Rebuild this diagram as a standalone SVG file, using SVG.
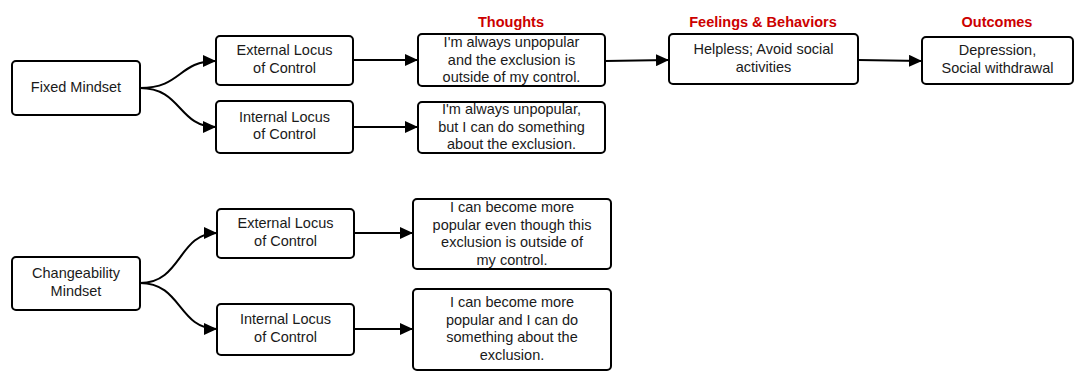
<svg xmlns="http://www.w3.org/2000/svg" width="1078" height="381" viewBox="0 0 1078 381">
  <style>
    .box { fill: #ffffff; stroke: #000000; stroke-width: 2; }
    .lbl { font-family: "Liberation Sans", Arial, sans-serif; font-size: 14.5px; fill: #1a1a1a; text-anchor: middle; }
    .head { font-family: "Liberation Sans", Arial, sans-serif; font-size: 14.5px; font-weight: bold; fill: #cc0000; text-anchor: middle; }
    .edge { fill: none; stroke: #000000; stroke-width: 2; marker-end: url(#arrow); }
  </style>
  <defs>
    <marker id="arrow" markerUnits="userSpaceOnUse" markerWidth="14" markerHeight="12" refX="13" refY="6" orient="auto">
      <path d="M0,0 L13,6 L0,12 Z" fill="#000000"/>
    </marker>
  </defs>

  <rect width="1078" height="381" fill="#ffffff"/>

  <!-- column headings -->
  <text class="head" x="511" y="27">Thoughts</text>
  <text class="head" x="763" y="27">Feelings &amp; Behaviors</text>
  <text class="head" x="997" y="27">Outcomes</text>

  <g id="connectors">
    <path class="edge" d="M140,88 C182,88 178,61 216,61"/>
    <path class="edge" d="M140,88 C182,88 178,127 216,127"/>
    <path class="edge" d="M353,60 L418,60"/>
    <path class="edge" d="M353,127 L418,127"/>
    <path class="edge" d="M605,61 L669,60"/>
    <path class="edge" d="M858,60 L922,61"/>
    <path class="edge" d="M140,283 C182,283 178,233 217,233"/>
    <path class="edge" d="M140,283 C182,283 178,329 217,329"/>
    <path class="edge" d="M354,233 L413,233"/>
    <path class="edge" d="M354,329 L413,329"/>
  </g>

  <g id="fixed-mindset">
    <rect class="box" x="12" y="61" width="128" height="54" rx="4"/>
    <text class="lbl" x="76" y="92">Fixed Mindset</text>
  </g>

  <g id="fixed-external">
    <rect class="box" x="216" y="36" width="137" height="49" rx="4"/>
    <text class="lbl" x="284.5" y="55">External Locus</text>
    <text class="lbl" x="284.5" y="73">of Control</text>
  </g>

  <g id="fixed-internal">
    <rect class="box" x="216" y="101" width="137" height="52" rx="4"/>
    <text class="lbl" x="284.5" y="122">Internal Locus</text>
    <text class="lbl" x="284.5" y="139">of Control</text>
  </g>

  <g id="thought-fixed-external">
    <rect class="box" x="418" y="34" width="187" height="52" rx="4"/>
    <text class="lbl" x="511.5" y="47">I'm always unpopular</text>
    <text class="lbl" x="511.5" y="64.5">and the exclusion is</text>
    <text class="lbl" x="511.5" y="82">outside of my control.</text>
  </g>

  <g id="thought-fixed-internal">
    <rect class="box" x="418" y="102" width="187" height="51" rx="4"/>
    <text class="lbl" x="511.5" y="114">I'm always unpopular,</text>
    <text class="lbl" x="511.5" y="131.5">but I can do something</text>
    <text class="lbl" x="511.5" y="149">about the exclusion.</text>
  </g>

  <g id="feelings">
    <rect class="box" x="669" y="34" width="189" height="50" rx="4"/>
    <text class="lbl" x="763.5" y="54">Helpless; Avoid social</text>
    <text class="lbl" x="763.5" y="72">activities</text>
  </g>

  <g id="outcomes">
    <rect class="box" x="922" y="37" width="151" height="47" rx="4"/>
    <text class="lbl" x="997.5" y="55">Depression,</text>
    <text class="lbl" x="997.5" y="73">Social withdrawal</text>
  </g>

  <g id="changeability-mindset">
    <rect class="box" x="12" y="257" width="128" height="53" rx="4"/>
    <text class="lbl" x="76" y="278">Changeability</text>
    <text class="lbl" x="76" y="296">Mindset</text>
  </g>

  <g id="change-external">
    <rect class="box" x="217" y="209" width="137" height="49" rx="4"/>
    <text class="lbl" x="285.5" y="228">External Locus</text>
    <text class="lbl" x="285.5" y="246">of Control</text>
  </g>

  <g id="change-internal">
    <rect class="box" x="217" y="304" width="137" height="51" rx="4"/>
    <text class="lbl" x="285.5" y="324">Internal Locus</text>
    <text class="lbl" x="285.5" y="342">of Control</text>
  </g>

  <g id="thought-change-external">
    <rect class="box" x="413" y="199" width="198" height="70" rx="4"/>
    <text class="lbl" x="512" y="212">I can become more</text>
    <text class="lbl" x="512" y="229.5">popular even though this</text>
    <text class="lbl" x="512" y="247">exclusion is outside of</text>
    <text class="lbl" x="512" y="265">my control.</text>
  </g>

  <g id="thought-change-internal">
    <rect class="box" x="413" y="289" width="198" height="81" rx="4"/>
    <text class="lbl" x="512" y="307">I can become more</text>
    <text class="lbl" x="512" y="325">popular and I can do</text>
    <text class="lbl" x="512" y="342">something about the</text>
    <text class="lbl" x="512" y="360">exclusion.</text>
  </g>
</svg>
